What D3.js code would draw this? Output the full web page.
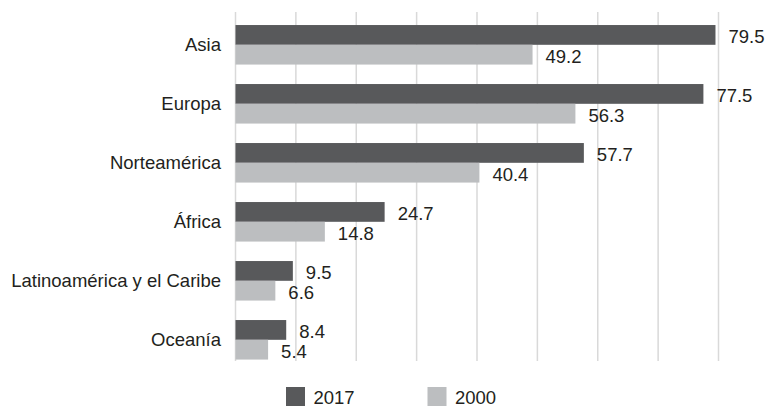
<!DOCTYPE html>
<html>
<head>
<meta charset="utf-8">
<script src="https://cdn.jsdelivr.net/npm/d3@7"></script>
<style>
  body { margin: 0; background: #fff; }
  text { font-family: "Liberation Sans", Arial, sans-serif; fill: #231f20; }
</style>
</head>
<body>
<div id="chart"></div>
<script>
// regions and the two series (2017 / 2000)
var regions = ["Asia", "Europa", "Norteamérica", "África", "Latinoamérica y el Caribe", "Oceanía"];
var years = ["2017", "2000"];
var vals2017 = [79.5, 77.5, 57.7, 24.7, 9.5, 8.4];
var vals2000 = [49.2, 56.3, 40.4, 14.8, 6.6, 5.4];
var gridTicks = [0, 10, 20, 30, 40, 50, 60, 70, 80];

var width = 769, height = 408,
    colors = ["#58595b", "#bcbec0"],
    fontSize = 18.5;

var svg = d3.select("#chart").append("svg")
    .attr("width", width).attr("height", height);

var xScale = d3.scaleLinear().domain([0, 80]).range([235.5, 718.5]);
var yScale = d3.scaleBand().domain(regions).range([15.3, 369.3])
    .paddingInner(0.33).paddingOuter(0.165);
var ySub = d3.scaleBand().domain(years).range([0, yScale.bandwidth()]);

// vertical grid lines
svg.append("g").selectAll("line")
    .data(gridTicks)
    .join("line")
    .attr("x1", d => xScale(d)).attr("x2", d => xScale(d))
    .attr("y1", 12).attr("y2", 361)
    .attr("stroke", "#d9d9d9")
    .attr("stroke-width", 1.5);

var rows = regions.map((r, i) => ({region: r, values: [vals2017[i], vals2000[i]]}));

var groups = svg.append("g").selectAll("g")
    .data(rows)
    .join("g")
    .attr("transform", d => "translate(0," + yScale(d.region) + ")");

groups.selectAll("rect")
    .data(d => d.values.map((v, j) => ({v: v, year: years[j], j: j})))
    .join("rect")
    .attr("x", xScale(0))
    .attr("y", d => ySub(d.year))
    .attr("width", d => xScale(d.v) - xScale(0))
    .attr("height", ySub.bandwidth())
    .attr("fill", d => colors[d.j]);

groups.selectAll("text.val")
    .data(d => d.values.map((v, j) => ({v: v, year: years[j]})))
    .join("text")
    .attr("class", "val")
    .attr("x", d => xScale(d.v) + 13)
    .attr("y", d => ySub(d.year) + ySub.bandwidth() / 2 + 2)
    .attr("dy", "0.35em")
    .style("font-size", fontSize + "px")
    .text(d => d.v.toFixed(1));

// category labels
svg.append("g").selectAll("text")
    .data(regions)
    .join("text")
    .attr("x", 221)
    .attr("y", d => yScale(d) + yScale.bandwidth() / 2)
    .attr("dy", "0.35em")
    .attr("text-anchor", "end")
    .style("font-size", fontSize + "px")
    .text(d => d);

// legend
var legendX = [286, 427.5];
var legend = svg.append("g").selectAll("g")
    .data(years)
    .join("g")
    .attr("transform", (d, i) => "translate(" + legendX[i] + ",387)");
legend.append("rect")
    .attr("width", 19).attr("height", 19)
    .attr("fill", (d, i) => colors[i]);
legend.append("text")
    .attr("x", 27.5).attr("y", 16.5)
    .style("font-size", fontSize + "px")
    .text(d => d);
</script>
</body>
</html>
